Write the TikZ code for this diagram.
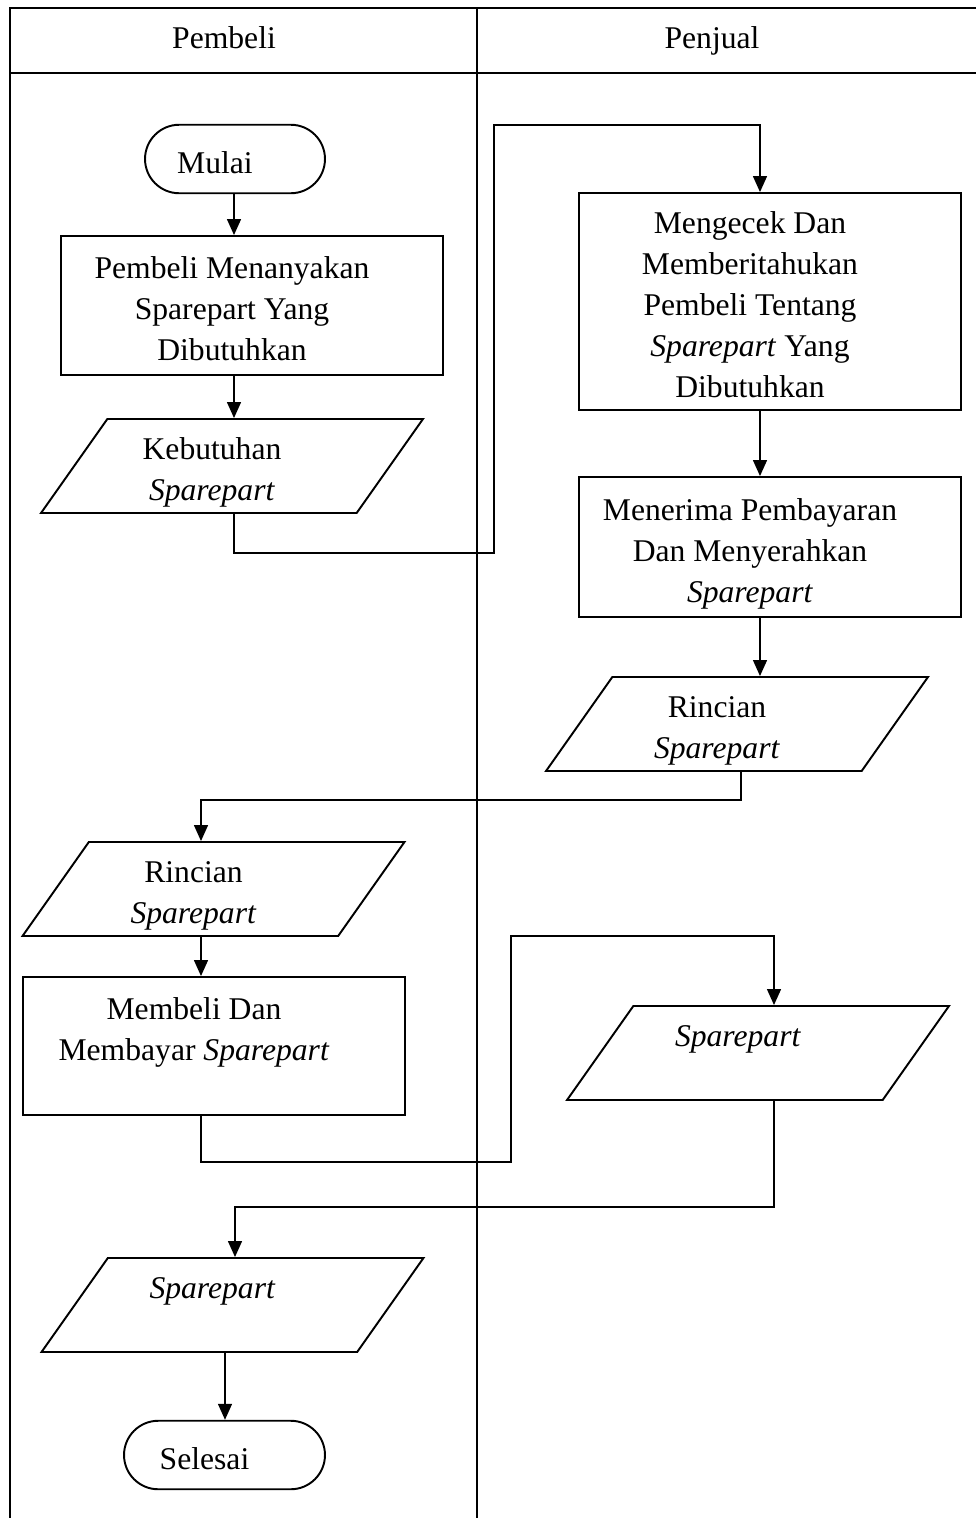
\documentclass[tikz,border=0pt]{standalone}
\usepackage{fontspec}
\setmainfont{Liberation Serif}
\usetikzlibrary{shapes.geometric,shapes.misc,arrows.meta}
\newcommand{\ctext}[1]{\hspace*{-8mm}\raisebox{-1.2mm}[\height][\depth]{\begin{tabular}{@{}c@{}}#1\end{tabular}}}

\begin{document}
\begin{tikzpicture}[x = 0.02cm, y = -0.02cm,
		every node/.style = {font = \fontsize{18}{23.3}\selectfont, inner sep = 0pt},
		proses/.style = {draw, line width = 1.1pt, rectangle, minimum width = 7.64cm},
		data/.style = {draw, line width = 1.1pt, trapezium, trapezium left angle = 51, trapezium right angle = 129, trapezium stretches body, minimum width = 7.64cm, minimum height = 1.88cm},
		terminal/.style = {draw, line width = 1.1pt, rounded rectangle, minimum height = 1.37cm},
		alur/.style = {line width = 0.8pt, -{Triangle[length = 0.32cm, width = 0.28cm]}}]
			\useasboundingbox (0,0) rectangle (976,1518);
			
			% swimlane
			\draw[line width = 1.1pt] (976,8) -- (10,8) -- (10,1518);
			\draw[line width = 1.1pt] (10,73) -- (976,73);
			\draw[line width = 1.1pt] (477,8) -- (477,1518);
			\node[anchor = base] (pembeli) at (224,48) {Pembeli};
			\node[anchor = base] (penjual) at (712,48) {Penjual};
			
			% simbol
			\node[terminal, minimum width = 3.6cm] (mulai) at (235,159) {\ctext{Mulai}};
			\node[proses, minimum height = 2.78cm] (menanya) at (252,305.5) {\ctext{Pembeli Menanyakan\\ Sparepart Yang\\ Dibutuhkan}};
			\node[data] (kebutuhan) at (232,466) {\ctext{Kebutuhan\\ \textit{Sparepart}}};
			\node[proses, minimum height = 4.34cm] (mengecek) at (770,301.5) {\ctext{Mengecek Dan\\ Memberitahukan\\ Pembeli Tentang\\ \textit{Sparepart} Yang\\ Dibutuhkan}};
			\node[proses, minimum height = 2.8cm] (menerima) at (770,547) {\ctext{Menerima Pembayaran\\ Dan Menyerahkan\\ \textit{Sparepart}}};
			\node[data] (rincianB) at (737,724) {\ctext{Rincian\\ \textit{Sparepart}}};
			\node[data] (rincianA) at (213.5,889) {\ctext{Rincian\\ \textit{Sparepart}}};
			\node[proses, minimum height = 2.76cm] (membeli) at (214,1046) {\ctext{Membeli Dan\\ Membayar \textit{Sparepart}\\ \mbox{}}};
			\node[data] (spareB) at (758,1053) {\ctext{\textit{Sparepart}\\ \mbox{}}};
			\node[data] (spareA) at (232.5,1305) {\ctext{\textit{Sparepart}\\ \mbox{}}};
			\node[terminal, minimum width = 4.02cm] (selesai) at (224.5,1455) {\ctext{Selesai}};
			
			% jalur
			\coordinate (kiri1) at (234,0);
			\coordinate (kiri2) at (201,800);
			\coordinate (kiri3) at (235,1207);
			\coordinate (kiri4) at (225,0);
			\coordinate (kanan1) at (760,0);
			\coordinate (kanan2) at (741,0);
			\coordinate (kanan3) at (774,0);
			\coordinate (b1) at (494,553);
			\coordinate (b2) at (494,125);
			\coordinate (b3) at (511,1162);
			\coordinate (b4) at (511,936);
			
			\foreach \a/\b/\x in {mulai/menanya/kiri1, menanya/kebutuhan/kiri1, mengecek/menerima/kanan1, menerima/rincianB/kanan1, rincianA/membeli/kiri2, spareA/selesai/kiri4}{
				
				\draw[alur] (\x |- \a.south) -- (\x |- \b.north);
			}
			
			\draw[alur] (kiri1 |- kebutuhan.south) |- (b1) -- (b2) -| (kanan1 |- mengecek.north);
			\draw[alur] (kanan2 |- rincianB.south) |- (kiri2) -- (kiri2 |- rincianA.north);
			\draw[alur] (kiri2 |- membeli.south) |- (b3) -- (b4) -| (kanan3 |- spareB.north);
			\draw[alur] (kanan3 |- spareB.south) |- (kiri3) -- (kiri3 |- spareA.north);
		\end{tikzpicture}
\end{document}
